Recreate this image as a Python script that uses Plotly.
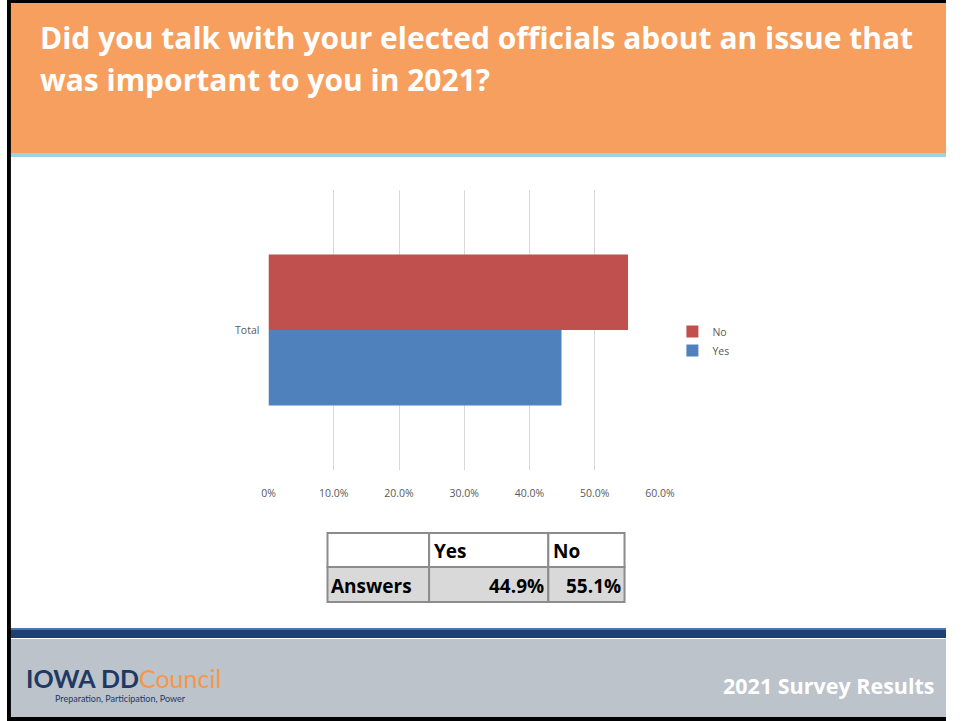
import plotly.graph_objects as go

# ---- data ----
answers = ["Yes", "No"]
shares = [44.9, 55.1]          # percent of respondents
bar_colors = ["#4F81BD", "#C0504D"]
category = ["Total"]
tick_vals = [0, 10, 20, 30, 40, 50, 60]
tick_text = ["0%", "10.0%", "20.0%", "30.0%", "40.0%", "50.0%", "60.0%"]
row_label = "Answers"

title_lines = ["Did you talk with your elected officials about an issue that",
               "was important to you in 2021?"]
footer_text = "2021 Survey Results"

W, H = 961, 721


def fx(px):
    return px / W


def fy(py):
    return 1 - py / H


def label(x, y, text, font, anchor="left"):
    return dict(xref="paper", yref="paper", x=fx(x), y=fy(y),
                xanchor=anchor, yanchor="middle", align=anchor,
                showarrow=False, text=text, font=font, borderpad=0)


fig = go.Figure()

for name, val, col in zip(answers, shares, bar_colors):
    fig.add_trace(go.Bar(
        y=category, x=[val], name=name, orientation="h",
        marker=dict(color=col, line=dict(width=0)),
        hoverinfo="x+name",
    ))

shapes = []
annotations = []

# header band
shapes.append(dict(type="rect", xref="paper", yref="paper", layer="below",
                   x0=0, x1=1, y0=fy(153), y1=1,
                   fillcolor="#F79F5E", line=dict(width=0)))
shapes.append(dict(type="rect", xref="paper", yref="paper", layer="below",
                   x0=0, x1=1, y0=fy(157), y1=fy(153),
                   fillcolor="#9DD4E0", line=dict(width=0)))

# footer band
shapes.append(dict(type="rect", xref="paper", yref="paper", layer="below",
                   x0=0, x1=1, y0=0, y1=fy(639),
                   fillcolor="#BCC3CB", line=dict(width=0)))
shapes.append(dict(type="rect", xref="paper", yref="paper", layer="below",
                   x0=0, x1=1, y0=fy(638), y1=fy(630),
                   fillcolor="#1E3F6F", line=dict(width=0)))
shapes.append(dict(type="rect", xref="paper", yref="paper", layer="below",
                   x0=0, x1=1, y0=fy(630), y1=fy(628),
                   fillcolor="#4A76B0", line=dict(width=0)))

# slide frame (top, left, bottom)
for x0, x1, y0, y1 in [(0, W, 0, 3), (0, 4, 0, H), (0, W, 717, H)]:
    shapes.append(dict(type="rect", xref="paper", yref="paper", layer="above",
                       x0=fx(x0), x1=fx(x1), y0=fy(y1), y1=fy(y0),
                       fillcolor="#000000", line=dict(width=0)))

# title
title_font = dict(family="Open Sans", size=30, color="#FFFFFF", weight="bold")
for i, line in enumerate(title_lines):
    annotations.append(label(33, 38 + 42 * i, line, title_font))

# summary table
col_edges = [328, 432, 554, 632]
row_edges = [533, 567, 602]
row_fills = ["#FFFFFF", "#D9D9D9"]
for r in range(2):
    for c in range(3):
        shapes.append(dict(type="rect", xref="paper", yref="paper", layer="above",
                           x0=fx(col_edges[c]), x1=fx(col_edges[c + 1]),
                           y0=fy(row_edges[r + 1]), y1=fy(row_edges[r]),
                           fillcolor=row_fills[r],
                           line=dict(color="#8C8C8C", width=2)))

tfont = dict(family="Open Sans", size=19, color="#000000", weight="bold")
row_mid = [(row_edges[0] + row_edges[1]) / 2 + 1, (row_edges[1] + row_edges[2]) / 2 + 1]
for c, name in enumerate(answers):
    annotations.append(label(col_edges[c + 1] + 4, row_mid[0], name, tfont))
    annotations.append(label(col_edges[c + 2] - 3, row_mid[1], f"{shares[c]:.1f}%",
                             tfont, anchor="right"))
annotations.append(label(col_edges[0] + 3, row_mid[1], row_label, tfont))

# footer logo and caption
annotations.append(label(18, 678,
                         "<span style='color:#1F3864'><b>IOWA DD</b></span>"
                         "<span style='color:#F7964A'>Council</span>",
                         dict(family="Lato", size=25)))
annotations.append(label(48, 698, "Preparation, Participation, Power",
                         dict(family="Lato", size=9, color="#1F3864")))
annotations.append(label(951, 685, footer_text,
                         dict(family="Open Sans", size=21.5, color="#FFFFFF",
                              weight="bold"), anchor="right"))

axis_font = dict(family="Open Sans", size=10.5, color="#595959")

fig.update_layout(
    width=W, height=H,
    margin=dict(l=0, r=0, t=0, b=0),
    paper_bgcolor="#FFFFFF", plot_bgcolor="rgba(0,0,0,0)",
    barmode="group", bargap=0.46, bargroupgap=0,
    shapes=shapes, annotations=annotations,
    showlegend=True,
    legend=dict(x=fx(681), y=fy(341), xanchor="left", yanchor="middle",
                traceorder="reversed", font=axis_font,
                bgcolor="rgba(0,0,0,0)", itemwidth=30),
    xaxis=dict(domain=[fx(267.5), fx(668.5)], range=[-0.03, 60.03],
               tickvals=tick_vals, ticktext=tick_text, tickfont=axis_font,
               showgrid=True, gridcolor="#D9D9D9", gridwidth=1,
               zeroline=False, showline=False, ticks="",
               ticklabelstandoff=15),
    yaxis=dict(domain=[fy(470), fy(190)], range=[-0.5, 0.5],
               tickfont=axis_font, showgrid=False, zeroline=False,
               showline=False, ticks="", ticklabelstandoff=8),
)

fig.write_html("out.html",
               post_script="document.body.style.margin='0';"
                           "document.body.style.overflow='hidden';")
